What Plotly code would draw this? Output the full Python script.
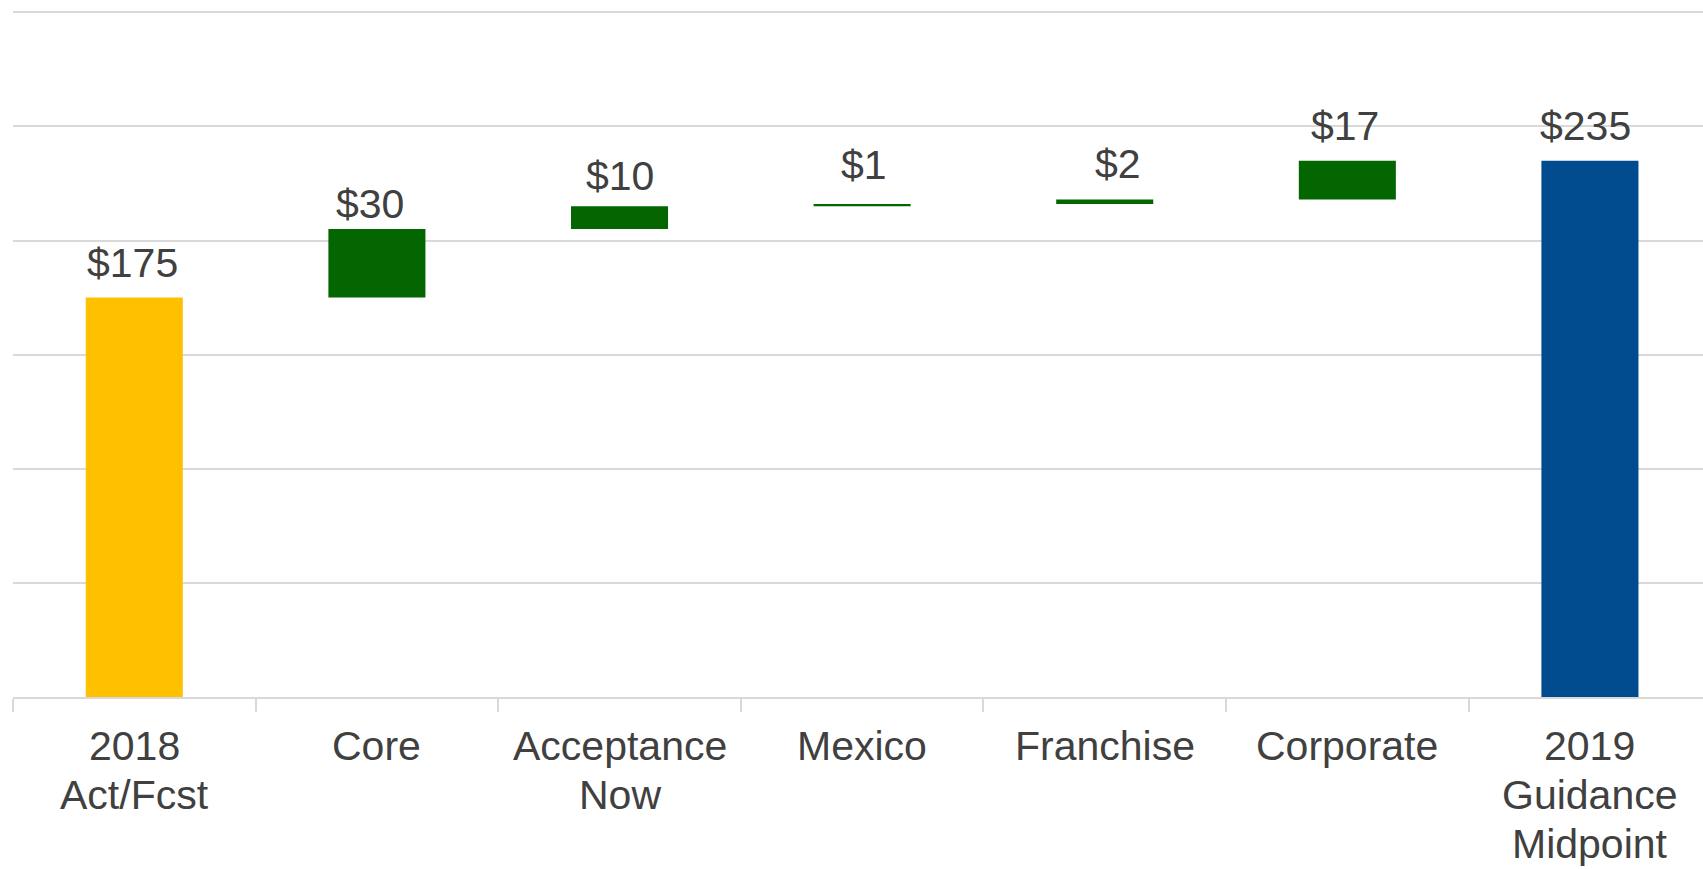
import plotly.graph_objects as go

categories = ["2018<br>Act/Fcst", "Core", "Acceptance<br>Now", "Mexico",
              "Franchise", "Corporate", "2019<br>Guidance<br>Midpoint"]
start_value = 175
changes = [30, 10, 1, 2, 17]
end_value = 235
labels = ["$175", "$30", "$10", "$1", "$2", "$17", "$235"]

# label placement tweaks (pixels), styling only
label_xshift = [-2, -7, 0, 2, 13, -2, -4]
label_yshift = [10, 0, 5, 14, 10, 10, 10]

colors = ["#FFC000"] + ["#036600"] * len(changes) + ["#004B8D"]

# waterfall bases / heights
bases = [0]
heights = [start_value]
running = start_value
for c in changes:
    bases.append(running)
    heights.append(c)
    running += c
bases.append(0)
heights.append(end_value)

fig = go.Figure()
fig.add_trace(go.Bar(
    x=categories, y=heights, base=bases,
    marker=dict(color=colors, line=dict(width=0)),
    width=0.4, hoverinfo="skip", showlegend=False,
))

TEXT = "#404040"
FONT = "Liberation Sans, Arial, sans-serif"
for x, b, h, t, dx, dy in zip(categories, bases, heights, labels,
                              label_xshift, label_yshift):
    fig.add_annotation(x=x, y=b + h, text=t, showarrow=False,
                       yanchor="bottom", xanchor="center",
                       xshift=dx, yshift=dy,
                       font=dict(family=FONT, size=41, color=TEXT))

# category labels (drawn line by line for tighter line spacing)
LINE_GAP = 49
FIRST_OFFSET = 24
for cat in categories:
    for i, line in enumerate(cat.split("<br>")):
        fig.add_annotation(x=cat, y=0, xref="x", yref="paper", text=line,
                           showarrow=False, yanchor="top", xanchor="center",
                           yshift=-(FIRST_OFFSET + i * LINE_GAP),
                           font=dict(family=FONT, size=41, color=TEXT))

fig.update_layout(
    width=1703, height=869,
    margin=dict(l=13, r=0, t=10, b=172),
    plot_bgcolor="white", paper_bgcolor="white",
    font=dict(family=FONT, size=41, color=TEXT),
    xaxis=dict(
        type="category", automargin=False,
        range=[-0.5, 6.466], tickson="boundaries",
        ticks="outside", ticklen=13, tickwidth=2, tickcolor="#d9d9d9",
        showticklabels=False,
        showline=True, linecolor="#d9d9d9", linewidth=2,
        showgrid=False, zeroline=False,
    ),
    yaxis=dict(
        range=[0, 301], tickvals=[0, 50, 100, 150, 200, 250, 300],
        showticklabels=False, automargin=False,
        showgrid=True, gridcolor="#d9d9d9", gridwidth=2,
        zeroline=False, showline=False, ticks="",
    ),
)

fig.write_html("out.html")
